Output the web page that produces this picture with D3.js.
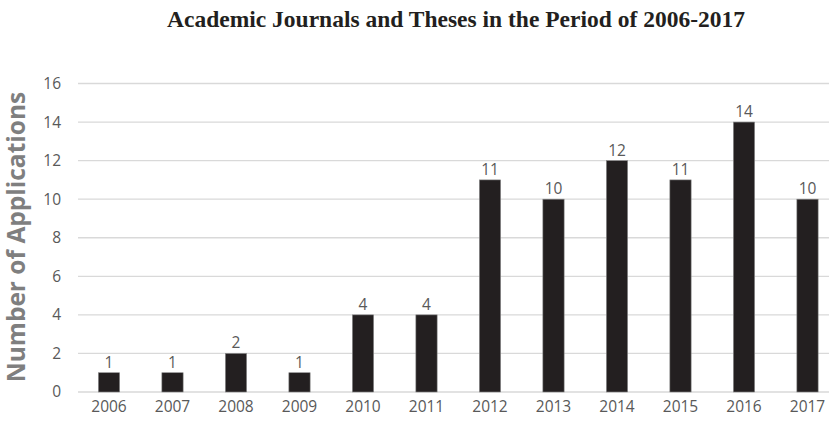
<!DOCTYPE html>
<html>
<head>
<meta charset="utf-8">
<script src="https://cdn.jsdelivr.net/npm/d3@7"></script>
<style>
  html, body { margin: 0; padding: 0; background: #fff; }
  svg { display: block; }
</style>
</head>
<body>
<svg id="chart" width="829" height="422"></svg>
<script>
// Publications per year
const years = ["2006", "2007", "2008", "2009", "2010", "2011", "2012", "2013", "2014", "2015", "2016", "2017"];
const counts = [1, 1, 2, 1, 4, 4, 11, 10, 12, 11, 14, 10];
const yTicks = [0, 2, 4, 6, 8, 10, 12, 14, 16];

const titleText = "Academic Journals and Theses in the Period of 2006-2017";
const yLabelText = "Number of Applications";

const svg = d3.select("#chart");
const plot = { left: 78, right: 829, top: 83.5, bottom: 392 };

const x = d3.scaleBand()
  .domain(years)
  .range([77.25, 839.25])
  .paddingInner(0.665)
  .paddingOuter(0.3325);

const y = d3.scaleLinear()
  .domain([0, 16])
  .range([plot.bottom, plot.top]);

const labelFont = "'Open Sans', sans-serif";
const labelSize = "15.5px";

// Horizontal gridlines
svg.append("g")
  .selectAll("line")
  .data(yTicks)
  .join("line")
  .attr("x1", plot.left)
  .attr("x2", plot.right)
  .attr("y1", d => y(d))
  .attr("y2", d => y(d))
  .attr("stroke", "#d9d9d9")
  .attr("stroke-width", 1.3);

// Y axis tick labels
const yAxis = d3.axisLeft(y).tickValues(yTicks).tickSize(0).tickPadding(0);
const gy = svg.append("g").attr("transform", "translate(61,0)").call(yAxis);
gy.select(".domain").remove();
gy.selectAll("text")
  .attr("fill", "#595959")
  .style("font-family", labelFont)
  .style("font-size", labelSize);

// X axis tick labels
const xAxis = d3.axisBottom(x).tickSize(0).tickPadding(0);
const gx = svg.append("g").attr("transform", "translate(0,401)").call(xAxis);
gx.select(".domain").remove();
gx.selectAll("text")
  .attr("fill", "#595959")
  .style("font-family", labelFont)
  .style("font-size", labelSize);

// Bars
const rows = years.map((yr, i) => ({ yr, v: counts[i] }));
svg.append("g")
  .selectAll("rect")
  .data(rows)
  .join("rect")
  .attr("x", d => x(d.yr))
  .attr("width", x.bandwidth())
  .attr("y", d => y(d.v))
  .attr("height", d => y(0) - y(d.v))
  .attr("fill", "#231f20")
  .attr("stroke", "#8a8a8a")
  .attr("stroke-width", 0.6);

// Value labels
svg.append("g")
  .selectAll("text")
  .data(rows)
  .join("text")
  .attr("x", d => x(d.yr) + x.bandwidth() / 2)
  .attr("y", d => y(d.v) - 5)
  .attr("text-anchor", "middle")
  .attr("fill", "#595959")
  .style("font-family", labelFont)
  .style("font-size", labelSize)
  .text(d => d.v);

// Title
svg.append("text")
  .attr("x", 456)
  .attr("y", 27)
  .attr("text-anchor", "middle")
  .attr("fill", "#231f20")
  .style("font-family", "'Liberation Serif', 'Times New Roman', serif")
  .style("font-weight", "bold")
  .style("font-size", "23.5px")
  .text(titleText);

// Y axis title
svg.append("text")
  .attr("transform", "translate(25,237) rotate(-90)")
  .attr("text-anchor", "middle")
  .attr("fill", "#7f7f7f")
  .style("font-family", "'Open Sans', sans-serif")
  .style("font-weight", "bold")
  .style("font-size", "24.5px")
  .text(yLabelText);
</script>
</body>
</html>
